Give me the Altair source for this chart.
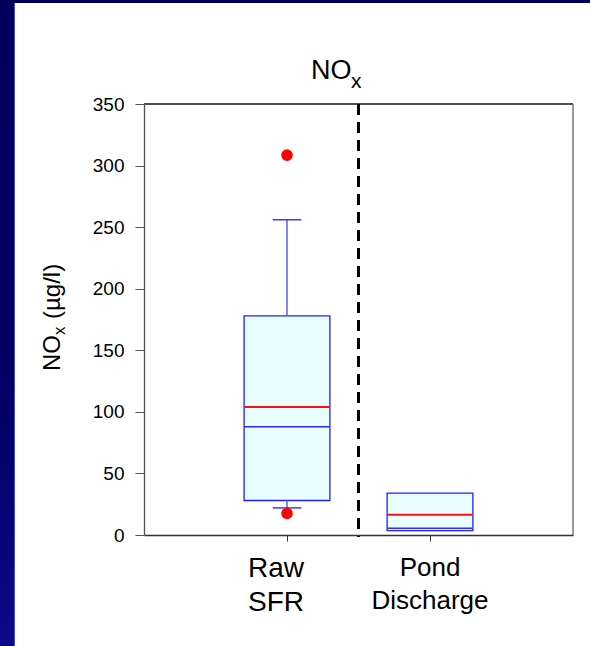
import altair as alt
import pandas as pd

# ---- data -------------------------------------------------------------
groups = ["Raw SFR", "Pond Discharge"]
positions = [1, 2]
q1 = [28, 3.5]
q3 = [178, 34]
medians = [88, 5.5]
means = [104, 16.5]

whisker_groups = ["Raw SFR"]
whisker_pos = [1]
whisker_low = [22]
whisker_high = [256]
whisker_q1 = [28]
whisker_q3 = [178]

outlier_pos = [1, 1]
outlier_values = [308.5, 17.5]

y_ticks = [0, 50, 100, 150, 200, 250, 300, 350]
divider_pos = [1.5]

W, H = 429, 431
BOX_HALF = 0.3
CAP_HALF = 0.1

boxes = pd.DataFrame({
    "group": groups, "pos": positions, "q1": q1, "q3": q3,
    "median": medians, "mean": means,
})
boxes["left"] = boxes["pos"] - BOX_HALF
boxes["right"] = boxes["pos"] + BOX_HALF

whiskers = pd.DataFrame({
    "group": whisker_groups, "pos": whisker_pos, "lo": whisker_low,
    "hi": whisker_high, "q1": whisker_q1, "q3": whisker_q3,
})
whiskers["cl"] = whiskers["pos"] - CAP_HALF
whiskers["cr"] = whiskers["pos"] + CAP_HALF

outliers = pd.DataFrame({"pos": outlier_pos, "value": outlier_values})

xs = alt.Scale(domain=[0, 3], nice=False, zero=False)
ys = alt.Scale(domain=[0, 350], nice=False, zero=False)
FONT = "Liberation Sans"
one = alt.Data(values=[{}])

# ---- slide background ------------------------------------------------
bg = alt.Chart(one).mark_rect(
    color=alt.LinearGradient(
        gradient="linear", x1=0, x2=0, y1=0, y2=1,
        stops=[alt.GradientStop(color="#00005a", offset=0),
               alt.GradientStop(color="#000066", offset=0.6),
               alt.GradientStop(color="#0a0a88", offset=1)],
    )
).encode(x=alt.value(-144), x2=alt.value(446), y=alt.value(-104), y2=alt.value(H + 111))

panel = alt.Chart(one).mark_rect(color="white").encode(
    x=alt.value(-129), x2=alt.value(446), y=alt.value(-101), y2=alt.value(H + 111)
)
edge = alt.Chart(one).mark_rule(color="#4b4bb5", strokeWidth=1).encode(
    x=alt.value(-129.5), y=alt.value(-101), y2=alt.value(H + 111)
)

# ---- boxes -----------------------------------------------------------
box = alt.Chart(boxes).mark_rect(
    fill="#e9fefe", stroke="#1f1fff", strokeWidth=1.3
).encode(
    x=alt.X("left:Q", scale=xs, title=None,
            axis=alt.Axis(values=[1, 2], labels=False, tickSize=6, tickColor="#333",
                          domainColor="#333", domainWidth=1.5, grid=False, zindex=2)),
    x2="right:Q",
    y=alt.Y("q1:Q", scale=ys, title=None,
            axis=alt.Axis(values=y_ticks, tickSize=9, tickColor="#555", domainColor="#555",
                          domainWidth=1.3, labelFontSize=19, labelFont=FONT,
                          labelColor="black", labelPadding=11, grid=False, zindex=2)),
    y2="q3:Q",
)

# plot frame (top and right edges; left/bottom come from the axes)
frame_top = alt.Chart(one).mark_rule(color="#111", strokeWidth=1.5).encode(
    x=alt.value(0), x2=alt.value(W), y=alt.value(0))
frame_right = alt.Chart(one).mark_rule(color="#777", strokeWidth=1.5).encode(
    x=alt.value(W), y=alt.value(0), y2=alt.value(H))

whisker_lo = alt.Chart(whiskers).mark_rule(color="#5a5aff", strokeWidth=1.5).encode(
    x=alt.X("pos:Q", scale=xs), y=alt.Y("lo:Q", scale=ys), y2="q1:Q")
whisker_hi = alt.Chart(whiskers).mark_rule(color="#5a5aff", strokeWidth=1.5).encode(
    x=alt.X("pos:Q", scale=xs), y=alt.Y("q3:Q", scale=ys), y2="hi:Q")
cap_lo = alt.Chart(whiskers).mark_rule(color="#3a3aff", strokeWidth=1.5).encode(
    x=alt.X("cl:Q", scale=xs), x2="cr:Q", y=alt.Y("lo:Q", scale=ys))
cap_hi = alt.Chart(whiskers).mark_rule(color="#3a3aff", strokeWidth=1.5).encode(
    x=alt.X("cl:Q", scale=xs), x2="cr:Q", y=alt.Y("hi:Q", scale=ys))

median_line = alt.Chart(boxes).mark_rule(color="#2a2aff", strokeWidth=1.5).encode(
    x=alt.X("left:Q", scale=xs), x2="right:Q", y=alt.Y("median:Q", scale=ys))
mean_line = alt.Chart(boxes).mark_rule(color="#ff1010", strokeWidth=2).encode(
    x=alt.X("left:Q", scale=xs), x2="right:Q", y=alt.Y("mean:Q", scale=ys))

dots = alt.Chart(outliers).mark_circle(color="#ff0000", opacity=1, size=135).encode(
    x=alt.X("pos:Q", scale=xs), y=alt.Y("value:Q", scale=ys))

divider = alt.Chart(pd.DataFrame({"x": divider_pos})).mark_rule(
    color="black", strokeWidth=3, strokeDash=[11, 7]
).encode(x=alt.X("x:Q", scale=xs), y=alt.value(0), y2=alt.value(H + 2))

# ---- category labels ---------------------------------------------------
raw_label = alt.Chart(pd.DataFrame({"pos": [1], "t": ["Raw\nSFR"]})).mark_text(
    font=FONT, fontSize=28, lineBreak="\n", lineHeight=34, align="center",
    baseline="alphabetic", dx=-11, color="black"
).encode(x=alt.X("pos:Q", scale=xs), y=alt.value(H + 42), text="t:N")
pond_label = alt.Chart(pd.DataFrame({"pos": [2], "t": ["Pond\nDischarge"]})).mark_text(
    font=FONT, fontSize=26, lineBreak="\n", lineHeight=33, align="center",
    baseline="alphabetic", color="black"
).encode(x=alt.X("pos:Q", scale=xs), y=alt.value(H + 41), text="t:N")

# ---- title: NO with subscript x ------------------------------------------
def txt(s, size, x, y, angle=0, align="left"):
    return alt.Chart(one).mark_text(
        text=s, font=FONT, fontSize=size, align=align, baseline="alphabetic",
        angle=angle, color="black"
    ).encode(x=alt.value(x), y=alt.value(y))

title_no = txt("NO", 27, 167, -25)
title_x = txt("x", 21, 207, -16)

# ---- y-axis title: NOx (µg/l), rotated ------------------------------------
ytitle_no = txt("NO", 24, -84, 267, angle=270)
ytitle_x = txt("x", 17, -79, 231, angle=270)
ytitle_unit = txt("(µg/l)", 24, -84, 215, angle=270)

chart = alt.layer(
    bg, panel, edge,
    box, whisker_lo, whisker_hi, cap_lo, cap_hi, median_line, mean_line,
    dots, frame_top, frame_right, divider, raw_label, pond_label,
    title_no, title_x, ytitle_no, ytitle_x, ytitle_unit,
).properties(
    width=W, height=H,
    padding={"left": 144, "top": 104, "right": 17, "bottom": 111},
    autosize=alt.AutoSizeParams(type="none"),
    background="#00005e",
).configure_view(
    stroke=None, fill=None
)

chart.save("out.html", embed_options={"renderer": "svg", "actions": False})
